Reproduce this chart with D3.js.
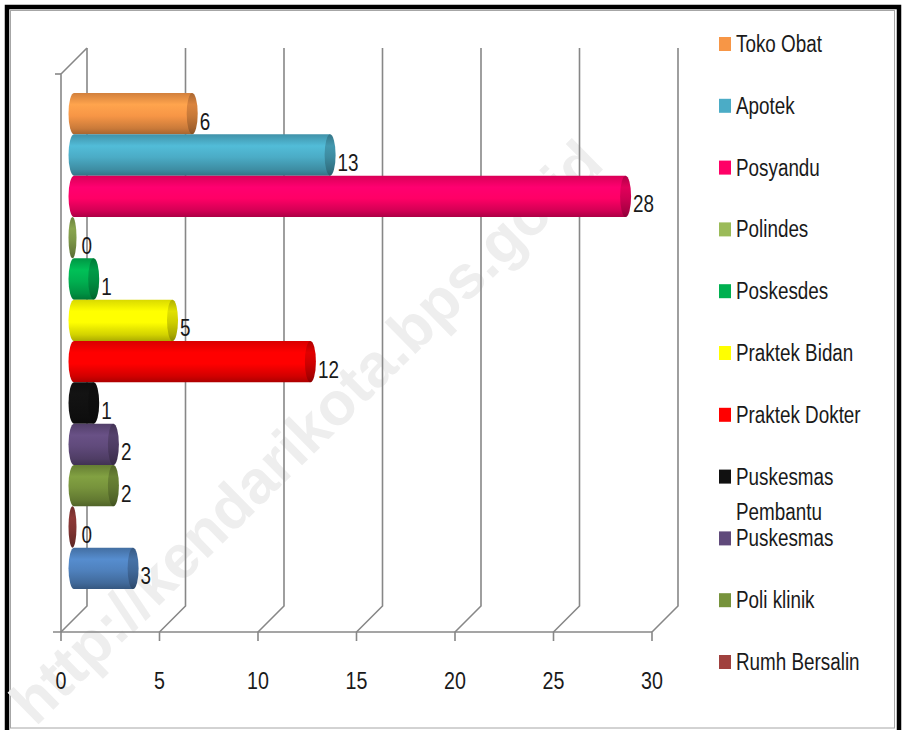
<!DOCTYPE html>
<html>
<head>
<meta charset="utf-8">
<script src="https://cdn.jsdelivr.net/npm/d3@7"></script>
<style>
    body { margin: 0; background: #fff; }
    svg text { font-family: "Liberation Sans", Arial, sans-serif; }
</style>
</head>
<body>
<svg width="902" height="730"></svg>
<script>
// data (top bar first)
var categories = ["Toko Obat", "Apotek", "Posyandu", "Polindes", "Poskesdes", "Praktek Bidan",
                  "Praktek Dokter", "Puskesmas Pembantu", "Puskesmas", "Poli klinik", "Rumh Bersalin", "Rumah Sakit"];
var values     = [6, 13, 28, 0, 1, 5, 12, 1, 2, 2, 0, 3];
var colors     = ["#F79646", "#4BACC6", "#FF0066", "#9BBB59", "#00B050", "#FFFF00",
                  "#FF0000", "#111111", "#604A7B", "#77933C", "#A0413E", "#4F81BD"];
var xTicks     = [0, 5, 10, 15, 20, 25, 30];
var legendCount = 11; // the last entry does not fit in the legend box

var svg = d3.select("svg"),
    defs = svg.append("defs"),
    depthX = 26,
    depthY = -26,
    floorY = 632,
    wallTop = 48,
    squeeze = 0.82; // narrow font look

var x = d3.scaleLinear().domain([0, 30]).range([61, 652]);
var y = d3.scaleBand().domain(categories).range([93, 589]).padding(0);

// places a horizontally squeezed text at (tx, ty)
function narrowText(sel, tx, ty) {
    sel.attr("transform", function(d, i) {
        return "translate(" + tx(d, i) + "," + ty(d, i) + ") scale(" + squeeze + ",1)";
    });
}

// frame
svg.append("rect").attr("width", 902).attr("height", 730).attr("fill", "#fff");
svg.append("rect")
    .attr("x", 10.5).attr("y", 10.5).attr("width", 884).attr("height", 717.5)
    .attr("fill", "none").attr("stroke", "#a6a6a6").attr("stroke-width", 1);
svg.append("path")
    .attr("d", "M7,732V7H899V732")
    .attr("fill", "none").attr("stroke", "#000").attr("stroke-width", 4.5);

// watermark, behind everything else
svg.append("text")
    .attr("transform", "translate(306,432) rotate(-44.5)")
    .attr("text-anchor", "middle")
    .attr("dominant-baseline", "central")
    .style("font-weight", "bold")
    .style("font-size", "61px")
    .attr("fill", "#eeeeee")
    .text("http://kendarikota.bps.go.id");

// walls and grid
var grid = svg.append("g")
    .attr("fill", "none").attr("stroke", "#878787").attr("stroke-width", 1.6);

xTicks.forEach(function(t) {
    var fx = x(t);
    grid.append("path").attr("d",
        "M" + fx + "," + (floorY + 9) + "V" + floorY +
        "L" + (fx + depthX) + "," + (floorY + depthY) + "V" + wallTop);
});
grid.append("path").attr("d", "M53," + floorY + "H" + x(30));
grid.append("path").attr("d",
    "M" + x(0) + "," + floorY + "V" + (wallTop - depthY) +
    "L" + (x(0) + depthX) + "," + wallTop);
grid.append("path").attr("d", "M55," + (wallTop - depthY) + "H" + x(0));

svg.append("g").selectAll("text")
    .data(xTicks)
    .enter().append("text")
    .attr("text-anchor", "middle")
    .style("font-size", "24px")
    .attr("fill", "#1a1a1a")
    .text(function(d) { return d; })
    .call(narrowText, function(d) { return x(d); }, function() { return 689; });

// gradients for the cylinders
function addGradient(id, c) {
    var g = defs.append("linearGradient").attr("id", id)
        .attr("x1", 0).attr("y1", 0).attr("x2", 0).attr("y2", 1);
    var base = d3.color(c);
    [[0, base.darker(0.45)], [0.28, base.brighter(0.25)], [0.55, base],
     [0.85, base.darker(0.55)], [1, base.darker(1.1)]].forEach(function(s) {
        g.append("stop").attr("offset", s[0]).attr("stop-color", s[1]);
    });
}

var bars = categories.map(function(name, i) {
    return { name: name, value: values[i], color: colors[i], i: i };
});

bars.forEach(function(d) {
    addGradient("body" + d.i, d.color);
    addGradient("cap" + d.i, d3.color(d.color).darker(0.6));
});

var rx = 5.5,
    ry = y.bandwidth() / 2,
    shift = depthX / 2;

var barG = svg.append("g").selectAll("g")
    .data(bars)
    .enter().append("g");

// body of the cylinder, rounded on the left
barG.filter(function(d) { return d.value > 0; })
    .append("path")
    .attr("d", function(d) {
        var x0 = x(0) + shift, x1 = x(d.value) + shift,
            top = y(d.name), bottom = top + y.bandwidth();
        return "M" + x0 + "," + top + "H" + x1 + "V" + bottom + "H" + x0 +
               "A" + rx + "," + ry + " 0 0 1 " + x0 + "," + top + "Z";
    })
    .attr("fill", function(d) { return "url(#body" + d.i + ")"; });

// end cap
barG.append("ellipse")
    .attr("cx", function(d) { return x(d.value) + shift - (d.value ? 0 : 1.5); })
    .attr("cy", function(d) { return y(d.name) + ry; })
    .attr("rx", function(d) { return d.value ? rx : 4; })
    .attr("ry", ry)
    .attr("fill", function(d) { return "url(#cap" + d.i + ")"; });

// value labels
barG.append("text")
    .style("font-size", "23px")
    .attr("fill", "#1a1a1a")
    .text(function(d) { return d.value; })
    .call(narrowText,
          function(d) { return x(d.value) + shift + rx + 2; },
          function(d) { return y(d.name) + ry + 16; });

// legend
var legend = svg.append("g").selectAll("g")
    .data(bars.slice(0, legendCount))
    .enter().append("g")
    .attr("transform", function(d, i) { return "translate(719," + (44 + i * 61.8) + ")"; });

legend.append("rect")
    .attr("x", 0).attr("y", -7).attr("width", 12).attr("height", 14)
    .attr("fill", function(d) { return d.color; });

legend.each(function(d) {
    var t = d3.select(this).append("text")
        .attr("transform", "translate(17,8) scale(" + squeeze + ",1)")
        .style("font-size", "23px")
        .attr("fill", "#1a1a1a");
    var words = d.name.split(" "), line = [],
        span = t.append("tspan").attr("x", 0).attr("dy", 0);
    words.forEach(function(w) {
        line.push(w);
        span.text(line.join(" "));
        if (span.node().getComputedTextLength() * squeeze > 140 && line.length > 1) {
            line.pop();
            span.text(line.join(" "));
            line = [w];
            span = t.append("tspan").attr("x", 0).attr("dy", 35).text(w);
        }
    });
});
</script>
</body>
</html>
